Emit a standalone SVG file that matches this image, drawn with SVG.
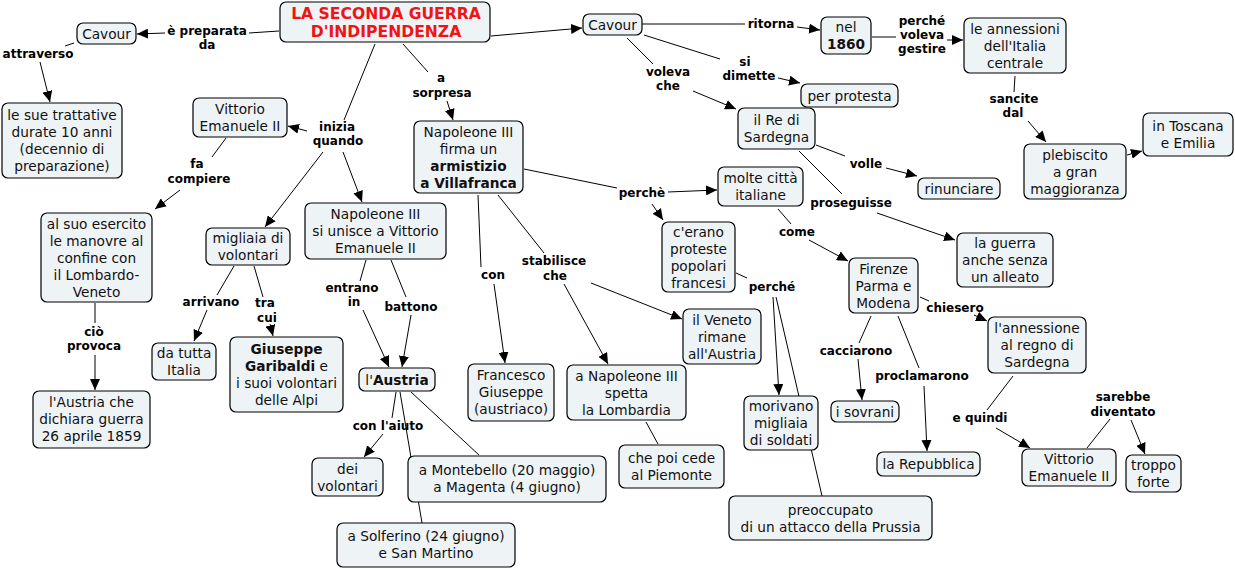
<svg xmlns="http://www.w3.org/2000/svg" width="1235" height="569" viewBox="0 0 1235 569">
<style>
.n rect{fill:#eef3f6;stroke:#000;stroke-width:1.2}
.n text{font-family:"DejaVu Sans",Verdana,sans-serif;font-size:13.7px;fill:#111;text-anchor:middle}
.b{font-weight:bold}
.title text{font-size:15.6px;font-weight:bold;fill:#f01414}
#conn line{stroke:#000;stroke-width:1;fill:none}
#conn line.a{marker-end:url(#ah)}
#labels text{font-family:"DejaVu Sans",Verdana,sans-serif;font-size:12px;font-weight:bold;fill:#000;text-anchor:middle}
</style>
<defs>
<marker id="ah" markerUnits="userSpaceOnUse" markerWidth="12" markerHeight="10" refX="11" refY="5" orient="auto">
<path d="M0,0 L11,5 L0,10 z" fill="#000"/>
</marker>
</defs>
<rect width="1235" height="569" fill="#fff"/>
<g id="conn">
<line x1="279" y1="31" x2="249" y2="33"/>
<line class="a" x1="165" y1="33" x2="137" y2="34"/>
<line x1="74" y1="43" x2="65" y2="46"/>
<line class="a" x1="40" y1="62" x2="50" y2="102"/>
<line x1="375" y1="44" x2="344" y2="120"/>
<line class="a" x1="307" y1="131" x2="288" y2="126"/>
<line class="a" x1="323" y1="152" x2="265" y2="227"/>
<line class="a" x1="343" y1="152" x2="362" y2="202"/>
<line x1="226" y1="138" x2="212" y2="157"/>
<line class="a" x1="180" y1="190" x2="155" y2="209"/>
<line x1="95" y1="303" x2="95" y2="323"/>
<line class="a" x1="95" y1="355" x2="95" y2="390"/>
<line x1="234" y1="266" x2="217" y2="295"/>
<line class="a" x1="207" y1="310" x2="194" y2="341"/>
<line x1="254" y1="266" x2="263" y2="297"/>
<line class="a" x1="270" y1="324" x2="273" y2="336"/>
<line x1="366" y1="260" x2="360" y2="281"/>
<line class="a" x1="363" y1="310" x2="389" y2="367"/>
<line x1="391" y1="260" x2="406" y2="297"/>
<line class="a" x1="411" y1="315" x2="402" y2="367"/>
<line x1="396" y1="392" x2="392" y2="418"/>
<line class="a" x1="383" y1="434" x2="364" y2="457"/>
<line x1="400" y1="392" x2="422" y2="523"/>
<line x1="411" y1="392" x2="479" y2="455"/>
<line x1="403" y1="44" x2="428" y2="72"/>
<line class="a" x1="447" y1="101" x2="453" y2="120"/>
<line class="a" x1="491" y1="36" x2="582" y2="28"/>
<line x1="642" y1="24" x2="745" y2="24"/>
<line class="a" x1="797" y1="27" x2="820" y2="30"/>
<line x1="872" y1="37" x2="896" y2="37"/>
<line class="a" x1="947" y1="40" x2="963" y2="40"/>
<line x1="1015" y1="76" x2="1014" y2="92"/>
<line class="a" x1="1028" y1="121" x2="1046" y2="142"/>
<line class="a" x1="1127" y1="155" x2="1142" y2="151"/>
<line x1="644" y1="35" x2="720" y2="59"/>
<line class="a" x1="778" y1="78" x2="800" y2="83"/>
<line x1="627" y1="38" x2="653" y2="64"/>
<line class="a" x1="693" y1="91" x2="736" y2="109"/>
<line x1="816" y1="145" x2="845" y2="156"/>
<line class="a" x1="886" y1="168" x2="917" y2="176"/>
<line x1="799" y1="151" x2="842" y2="194"/>
<line class="a" x1="877" y1="213" x2="955" y2="240"/>
<line x1="524" y1="169" x2="617" y2="188"/>
<line class="a" x1="668" y1="192" x2="717" y2="190"/>
<line class="a" x1="652" y1="204" x2="663" y2="220"/>
<line x1="778" y1="209" x2="791" y2="224"/>
<line class="a" x1="809" y1="240" x2="848" y2="261"/>
<line x1="736" y1="273" x2="747" y2="278"/>
<line class="a" x1="773" y1="297" x2="779" y2="395"/>
<line x1="776" y1="297" x2="822" y2="496"/>
<line x1="920" y1="297" x2="929" y2="301"/>
<line class="a" x1="974" y1="315" x2="987" y2="321"/>
<line x1="871" y1="316" x2="859" y2="343"/>
<line class="a" x1="858" y1="359" x2="862" y2="400"/>
<line x1="898" y1="316" x2="919" y2="368"/>
<line class="a" x1="924" y1="386" x2="927" y2="451"/>
<line x1="1013" y1="376" x2="987" y2="410"/>
<line class="a" x1="996" y1="428" x2="1030" y2="448"/>
<line x1="1087" y1="448" x2="1110" y2="419"/>
<line class="a" x1="1131" y1="420" x2="1145" y2="454"/>
<line x1="478" y1="195" x2="481" y2="267"/>
<line class="a" x1="494" y1="284" x2="505" y2="363"/>
<line x1="498" y1="195" x2="544" y2="253"/>
<line class="a" x1="564" y1="284" x2="608" y2="364"/>
<line class="a" x1="591" y1="283" x2="682" y2="319"/>
<line x1="646" y1="422" x2="658" y2="444"/>
</g>
<g id="labels">
<text x="207" y="35">è preparata</text><text x="207" y="49">da</text>
<text x="38" y="58">attraverso</text>
<text x="337" y="131">inizia</text><text x="338" y="145">quando</text>
<text x="197" y="168">fa</text><text x="199" y="183">compiere</text>
<text x="94" y="336">ciò</text><text x="94" y="350">provoca</text>
<text x="211" y="306">arrivano</text>
<text x="265" y="307">tra</text><text x="267" y="322">cui</text>
<text x="352" y="292">entrano</text><text x="354" y="306">in</text>
<text x="411" y="311">battono</text>
<text x="388" y="430">con l'aiuto</text>
<text x="441" y="82">a</text><text x="442" y="97">sorpresa</text>
<text x="771" y="28">ritorna</text>
<text x="922" y="25">perché</text><text x="922" y="39">voleva</text><text x="922" y="53">gestire</text>
<text x="1014" y="103">sancite</text><text x="1013" y="117">dal</text>
<text x="745" y="66">si</text><text x="749" y="80">dimette</text>
<text x="668" y="76">voleva</text><text x="668" y="90">che</text>
<text x="866" y="168">volle</text>
<text x="851" y="207">proseguisse</text>
<text x="642" y="197">perchè</text>
<text x="797" y="236">come</text>
<text x="772" y="291">perché</text>
<text x="955" y="312">chiesero</text>
<text x="856" y="355">cacciarono</text>
<text x="922" y="380">proclamarono</text>
<text x="980" y="422">e quindi</text>
<text x="1123" y="401">sarebbe</text><text x="1123" y="416">diventato</text>
<text x="493" y="279">con</text>
<text x="554" y="265">stabilisce</text><text x="555" y="280">che</text>
</g>
<g id="n_title" class="n title"><rect x="280" y="2" width="210" height="40" rx="6"/><text x="386" y="18.5">LA SECONDA GUERRA</text><text x="386" y="36.5">D'INDIPENDENZA</text></g>
<g id="n_cavour1" class="n"><rect x="77" y="23" width="59" height="21" rx="6"/><text x="106.5" y="38.5">Cavour</text></g>
<g id="n_trattative" class="n"><rect x="2" y="103" width="120" height="75" rx="6"/><text x="62" y="120">le sue trattative</text><text x="62" y="137">durate 10 anni</text><text x="62" y="154">(decennio di</text><text x="62" y="171">preparazione)</text></g>
<g id="n_ve1" class="n"><rect x="193" y="98" width="94" height="39" rx="6"/><text x="240" y="114">Vittorio</text><text x="240" y="131">Emanuele II</text></g>
<g id="n_esercito" class="n"><rect x="41" y="213" width="111" height="89" rx="6"/><text x="96.5" y="229">al suo esercito</text><text x="96.5" y="246">le manovre al</text><text x="96.5" y="263">confine con</text><text x="96.5" y="280">il Lombardo-</text><text x="96.5" y="297">Veneto</text></g>
<g id="n_dichiara" class="n"><rect x="33" y="391" width="117" height="57" rx="6"/><text x="91.5" y="407">l'Austria che</text><text x="91.5" y="424">dichiara guerra</text><text x="91.5" y="441">26 aprile 1859</text></g>
<g id="n_migliaia" class="n"><rect x="206" y="228" width="84" height="37" rx="6"/><text x="248" y="243">migliaia di</text><text x="248" y="260">volontari</text></g>
<g id="n_datutta" class="n"><rect x="152" y="343" width="64" height="37" rx="6"/><text x="184" y="358">da tutta</text><text x="184" y="375">Italia</text></g>
<g id="n_garibaldi" class="n"><rect x="230" y="337" width="113" height="75" rx="6"/><text x="286.5" y="354" class="b">Giuseppe</text><text x="286.5" y="371"><tspan class="b">Garibaldi</tspan> e</text><text x="286.5" y="388">i suoi volontari</text><text x="286.5" y="405">delle Alpi</text></g>
<g id="n_unisce" class="n"><rect x="305" y="203" width="141" height="56" rx="6"/><text x="375.5" y="219">Napoleone III</text><text x="375.5" y="236">si unisce a Vittorio</text><text x="375.5" y="253">Emanuele II</text></g>
<g id="n_austria" class="n"><rect x="359" y="368" width="76" height="23" rx="6"/><text x="397" y="384.5">l'<tspan class="b">Austria</tspan></text></g>
<g id="n_dei" class="n"><rect x="312" y="458" width="71" height="38" rx="6"/><text x="347.5" y="474">dei</text><text x="347.5" y="491">volontari</text></g>
<g id="n_montebello" class="n"><rect x="408" y="456" width="198" height="46" rx="6"/><text x="507" y="475">a Montebello (20 maggio)</text><text x="507" y="492">a Magenta (4 giugno)</text></g>
<g id="n_solferino" class="n"><rect x="337" y="523" width="178" height="44" rx="6"/><text x="426" y="541">a Solferino (24 giugno)</text><text x="426" y="558">e San Martino</text></g>
<g id="n_armistizio" class="n"><rect x="414" y="121" width="109" height="72" rx="6"/><text x="468.5" y="136.5">Napoleone III</text><text x="468.5" y="153.5">firma un</text><text x="468.5" y="170.5" class="b">armistizio</text><text x="468.5" y="187.5" class="b">a Villafranca</text></g>
<g id="n_francesco" class="n"><rect x="468" y="364" width="86" height="57" rx="6"/><text x="511" y="380">Francesco</text><text x="511" y="397">Giuseppe</text><text x="511" y="414">(austriaco)</text></g>
<g id="n_lombardia" class="n"><rect x="567" y="365" width="119" height="55" rx="6"/><text x="626.5" y="380.5">a Napoleone III</text><text x="626.5" y="397.5">spetta</text><text x="626.5" y="414.5">la Lombardia</text></g>
<g id="n_cede" class="n"><rect x="619" y="445" width="105" height="43" rx="6"/><text x="671.5" y="463">che poi cede</text><text x="671.5" y="480">al Piemonte</text></g>
<g id="n_veneto" class="n"><rect x="683" y="309" width="78" height="55" rx="6"/><text x="722" y="324.5">il Veneto</text><text x="722" y="341.5">rimane</text><text x="722" y="358.5">all'Austria</text></g>
<g id="n_cavour2" class="n"><rect x="583" y="14" width="59" height="21" rx="6"/><text x="612.5" y="29.5">Cavour</text></g>
<g id="n_1860" class="n"><rect x="821" y="17" width="50" height="37" rx="6"/><text x="846" y="32">nel</text><text x="846" y="49" class="b">1860</text></g>
<g id="n_annessioni" class="n"><rect x="964" y="18" width="102" height="55" rx="6"/><text x="1015" y="33.5">le annessioni</text><text x="1015" y="50.5">dell'Italia</text><text x="1015" y="67.5">centrale</text></g>
<g id="n_protesta" class="n"><rect x="801" y="84" width="97" height="23" rx="6"/><text x="849.5" y="100.5">per protesta</text></g>
<g id="n_re" class="n"><rect x="738" y="108" width="77" height="41" rx="6"/><text x="776.5" y="125">il Re di</text><text x="776.5" y="142">Sardegna</text></g>
<g id="n_plebiscito" class="n"><rect x="1024" y="144" width="102" height="55" rx="6"/><text x="1075" y="159.5">plebiscito</text><text x="1075" y="176.5">a gran</text><text x="1075" y="193.5">maggioranza</text></g>
<g id="n_toscana" class="n"><rect x="1143" y="113" width="90" height="43" rx="6"/><text x="1188" y="131">in Toscana</text><text x="1188" y="148">e Emilia</text></g>
<g id="n_rinunciare" class="n"><rect x="918" y="178" width="82" height="21" rx="6"/><text x="959" y="193.5">rinunciare</text></g>
<g id="n_molte" class="n"><rect x="718" y="167" width="85" height="39" rx="6"/><text x="760.5" y="183">molte città</text><text x="760.5" y="200">italiane</text></g>
<g id="n_cerano" class="n"><rect x="662" y="222" width="73" height="70" rx="6"/><text x="698.5" y="236.5">c'erano</text><text x="698.5" y="253.5">proteste</text><text x="698.5" y="270.5">popolari</text><text x="698.5" y="287.5">francesi</text></g>
<g id="n_guerra" class="n"><rect x="957" y="233" width="96" height="54" rx="6"/><text x="1005" y="248">la guerra</text><text x="1005" y="265">anche senza</text><text x="1005" y="282">un alleato</text></g>
<g id="n_firenze" class="n"><rect x="849" y="258" width="69" height="55" rx="6"/><text x="883.5" y="273.5">Firenze</text><text x="883.5" y="290.5">Parma e</text><text x="883.5" y="307.5">Modena</text></g>
<g id="n_annessione" class="n"><rect x="988" y="317" width="98" height="56" rx="6"/><text x="1037" y="333">l'annessione</text><text x="1037" y="350">al regno di</text><text x="1037" y="367">Sardegna</text></g>
<g id="n_sovrani" class="n"><rect x="831" y="401" width="68" height="21" rx="6"/><text x="865" y="416.5">i sovrani</text></g>
<g id="n_repubblica" class="n"><rect x="877" y="452" width="103" height="24" rx="6"/><text x="928.5" y="469">la Repubblica</text></g>
<g id="n_ve2" class="n"><rect x="1022" y="449" width="94" height="37" rx="6"/><text x="1069" y="464">Vittorio</text><text x="1069" y="481">Emanuele II</text></g>
<g id="n_troppo" class="n"><rect x="1126" y="455" width="55" height="37" rx="6"/><text x="1153.5" y="470">troppo</text><text x="1153.5" y="487">forte</text></g>
<g id="n_morivano" class="n"><rect x="744" y="396" width="74" height="54" rx="6"/><text x="781" y="411">morivano</text><text x="781" y="428">migliaia</text><text x="781" y="445">di soldati</text></g>
<g id="n_prussia" class="n"><rect x="729" y="496" width="203" height="44" rx="6"/><text x="830.5" y="514.5">preoccupato</text><text x="830.5" y="531.5">di un attacco della Prussia</text></g>
</svg>
